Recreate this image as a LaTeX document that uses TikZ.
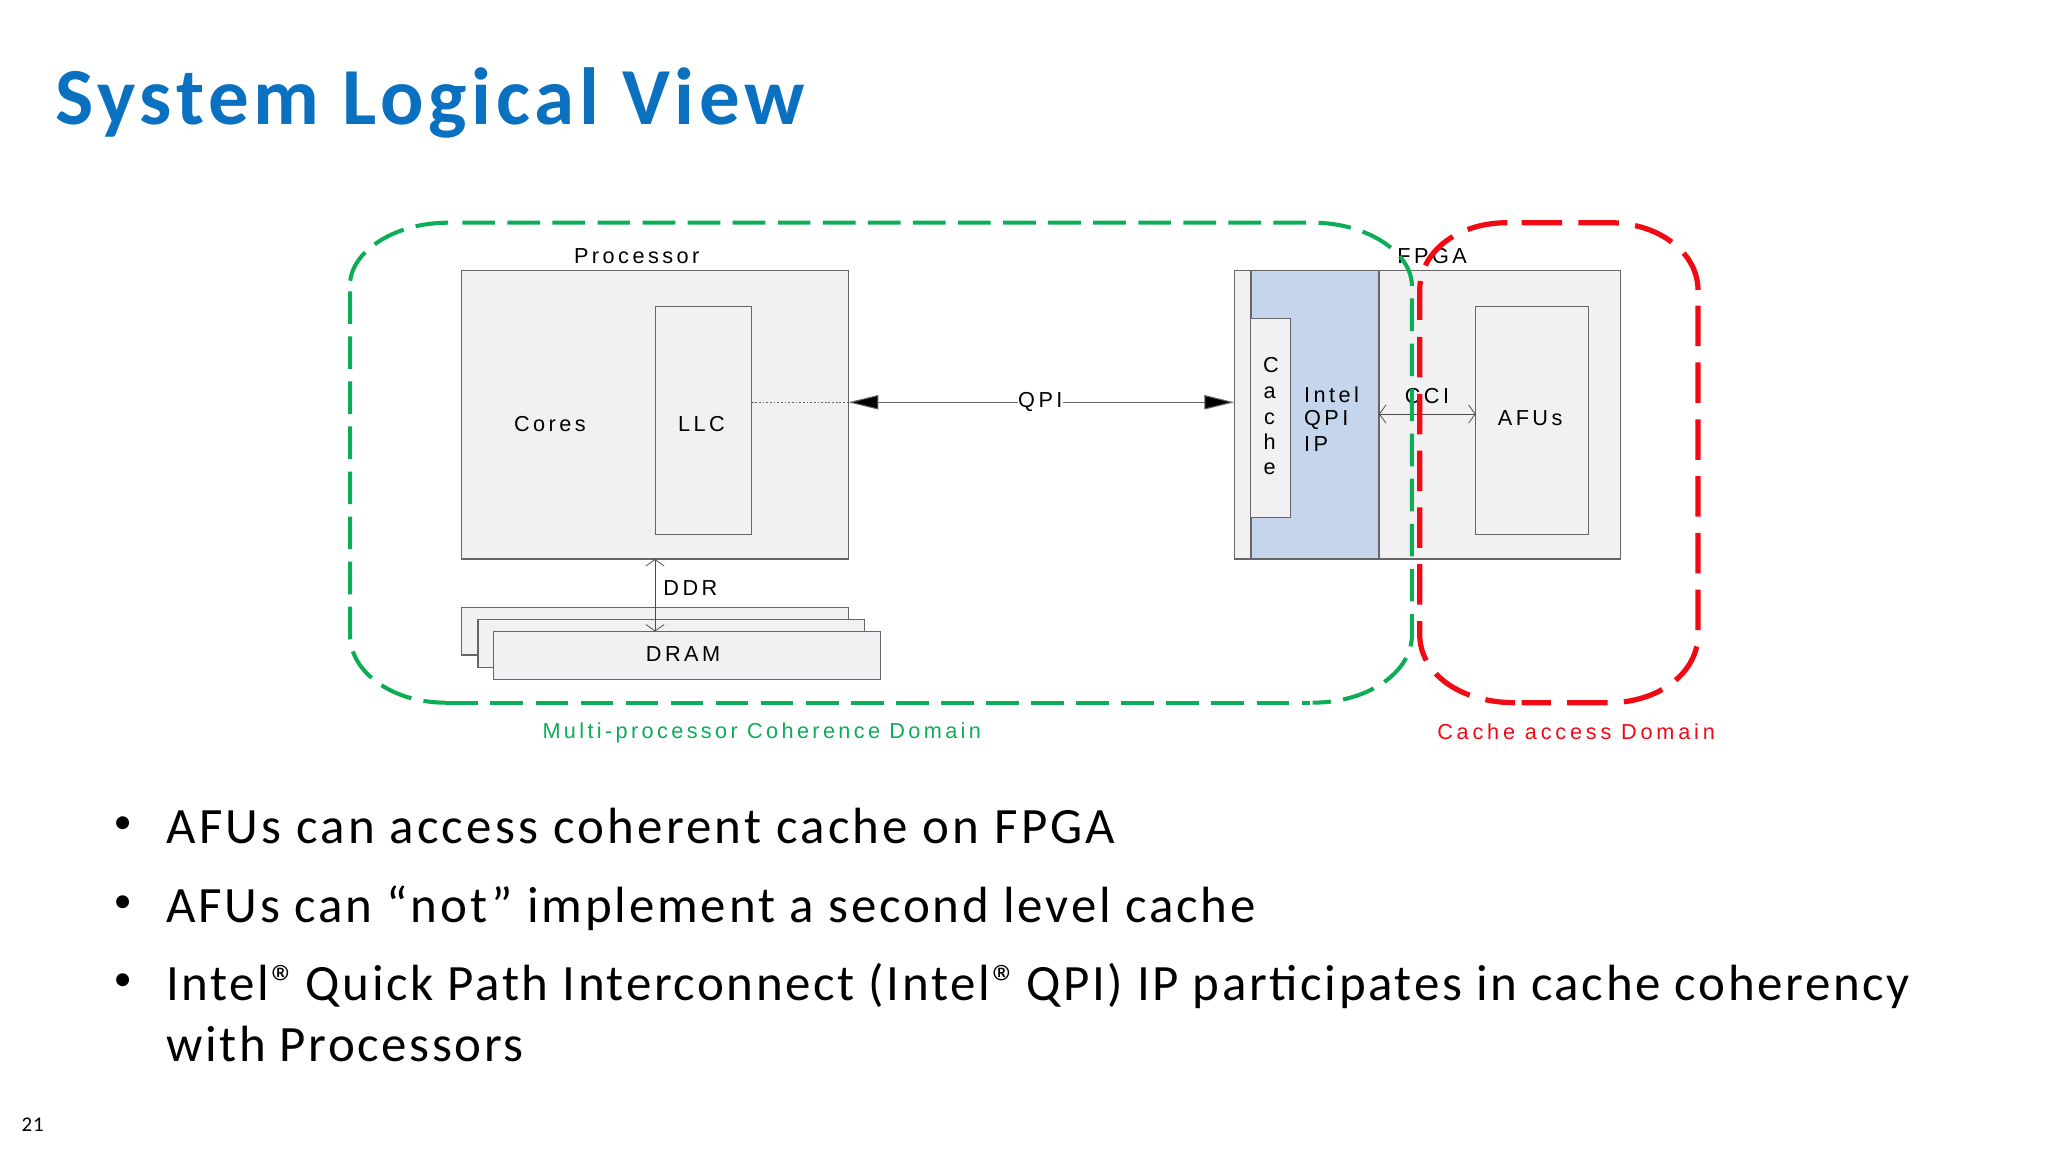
\documentclass[tikz,border=0pt]{standalone}
\usepackage{fontspec}
\usetikzlibrary{arrows.meta,calc}
\setmainfont{Liberation Sans}
\newfontfamily\dgfont{Liberation Sans}[LetterSpace=16]
\newfontfamily\ttlfont{Carlito}[LetterSpace=5.9,BoldFont={Carlito Bold}]
\newfontfamily\blfont{Carlito}[LetterSpace=6]
\newfontfamily\pgfontx{Carlito}[LetterSpace=5]
\definecolor{tblue}{HTML}{0A70C0}
\definecolor{boxgray}{HTML}{F1F0F2}
\definecolor{ipblue}{HTML}{C5D6EC}
\definecolor{edge}{HTML}{666666}
\definecolor{dgreen}{HTML}{0BAE57}
\definecolor{dred}{HTML}{F10A14}
\tikzset{
  box/.style={draw=edge,fill=boxgray,line width=0.5pt,inner sep=0,outer sep=0},
  lbl/.style={font=\dgfont\fontsize{8.3}{9}\selectfont,inner sep=0,text=black},
  bul/.style={font=\blfont\fontsize{19.5}{20}\selectfont,anchor=base west,inner sep=0,text=black},
  dot/.style={font=\blfont\fontsize{14}{20}\selectfont,anchor=center,inner sep=0,text=black},
  open2/.style={{Straight Barb[length=2.5pt,width=7pt]}-{Straight Barb[length=2.5pt,width=7pt]},line width=0.3pt,draw=black!70},
  solid2/.style={line width=0.4pt,draw=edge},
  ahead/.style={-{Triangle[length=11.5pt,width=5.5pt,fill=black]}},
  gdash/.style={draw=dgreen,line width=1.55pt,dash pattern=on 12.5pt off 4.75pt},
  rdash/.style={draw=dred,line width=2pt,dash pattern=on 15.5pt off 6.25pt}
}
\begin{document}
\begin{tikzpicture}[x=0.5pt,y=-0.5pt]
\useasboundingbox (0,0) rectangle (1568,882);
\fill[white] (0,0) rectangle (1568,882);
% title
\node[font=\ttlfont\bfseries\fontsize{31}{34}\selectfont,text=tblue,anchor=base west,inner sep=0] (title) at (42,95) {System Logical View};
% processor
\node[box,minimum width=148pt,minimum height=110.5pt] (proc) at (501.5,317.5) {};
\node[box,line width=0.4pt,minimum width=37pt,minimum height=87.25pt] (llc) at (538.5,322.25) {};
\node[lbl] (proclbl) at (487.5,196) {Processor};
\node[lbl] (cores) at (421,325) {Cores};
\node[lbl] (llctxt) at (537,324.5) {LLC};
% dram
\node[box,minimum width=148pt,minimum height=18.25pt] (d1) at (501.5,483.25) {};
\node[box,minimum width=148pt,minimum height=18.25pt] (d2) at (514,492.75) {};
\node[box,minimum width=148pt,minimum height=18.25pt] (d3) at (526,501.75) {};
\node[lbl] (dramtxt) at (523,500.5) {DRAM};
\node[lbl,anchor=west] (ddr) at (507.5,450) {DDR};
\draw[open2] (proc.south) -- (d3.north -| proc.south);
% fpga
\node[box,minimum width=147.75pt,minimum height=110.5pt] (fpga) at (1092.75,317.5) {};
\node[box,fill=ipblue,minimum width=49pt,minimum height=110.5pt] (ip) at (1006.75,317.5) {};
\node[box,line width=0.4pt,minimum width=15.25pt,minimum height=76pt] (cache) at (973,320) {};
\node[box,line width=0.4pt,minimum width=43.25pt,minimum height=87.25pt] (afu) at (1173,322.25) {};
\node[lbl] (fpgalbl) at (1096.5,196) {FPGA};
\node[lbl,anchor=base] (c1) at (973,285) {C};
\node[lbl,anchor=base] (c2) at (972,305) {a};
\node[lbl,anchor=base] (c3) at (972,325) {c};
\node[lbl,anchor=base] (c4) at (972,344) {h};
\node[lbl,anchor=base] (c5) at (972,363) {e};
\node[lbl,anchor=west] (ip1) at (998,302) {Intel};
\node[lbl,anchor=west] (ip2) at (998,321.5) {QPI};
\node[lbl,anchor=west] (ip3) at (998,340) {IP};
\node[lbl] (cci) at (1092.5,303) {CCI};
\node[lbl] (afutxt) at (1171.5,320.5) {AFUs};
\coordinate (ccia) at (1056,317);
\draw[open2] (ip.east |- ccia) -- (afu.west |- ccia);
% QPI
\node[lbl] (qpi) at (796.5,308) {QPI};
\coordinate (qy) at (796.5,308);
\draw[solid2,ahead] (qpi.west |- qy) -- (proc.east |- qy);
\draw[solid2,ahead] (qpi.east |- qy) -- (fpga.west |- qy);
\draw[line width=0.4pt,draw=edge,dash pattern=on 0.7pt off 0.7pt] (llc.east |- qy) -- (proc.east |- qy);
% domains
\draw[gdash] (354,170.5) -- (1005,170.5) .. controls (1047,170.5) and (1081,193.5) .. (1081,219);
\draw[gdash] (1081,228.5) -- (1081,486) .. controls (1081,515) and (1047,538) .. (1005,538);
\draw[gdash] (341,538) -- (1003,538);
\draw[gdash] (268,223) -- (268,486) .. controls (268,515) and (301,538) .. (341,538);
\draw[gdash] (343,170.5) .. controls (301,170.5) and (268,193.5) .. (268,218);
\draw[rdash] (1165,170.5) -- (1232,170.5) .. controls (1270,170.5) and (1300,193.5) .. (1300,222);
\draw[rdash] (1300,234) -- (1300,486) .. controls (1300,515) and (1270,538) .. (1232,538) -- (1165,538);
\draw[rdash] (1087,258) -- (1087,486) .. controls (1087,515) and (1117,538) .. (1160,538);
\draw[rdash] (1154,170.5) .. controls (1115,170.5) and (1087,193.5) .. (1087,222) -- (1087,245);
\node[lbl,text=dgreen,anchor=west] (mlbl) at (415,561.5) {\addfontfeature{LetterSpace=15.5}Multi-processor Coherence Domain};
\node[lbl,text=dred,anchor=west] (clbl) at (1100,560) {\addfontfeature{LetterSpace=17.5}Cache access Domain};
% bullets
\node[dot] (b1) at (94,632) {•};
\node[dot] (b2) at (94,692) {•};
\node[dot] (b3) at (94,752) {•};
\node[bul] (t1) at (127,646) {\addfontfeature{LetterSpace=6.3}AFUs can access coherent cache on FPGA};
\node[bul] (t2) at (127,706) {\addfontfeature{LetterSpace=5.5}AFUs can “not” implement a second level cache};
\node[bul] (t3) at (127,766) {\addfontfeature{LetterSpace=5.1}Intel®\kern-0.12em{} Quick Path Interconnect (Intel®\kern-0.12em{} QPI) IP participates in cache coherency};
\node[bul] (t4) at (127,813) {\addfontfeature{LetterSpace=5}with Processors};
\node[font=\pgfontx\fontsize{8}{9}\selectfont,inner sep=0] (pg) at (25,861) {21};
\end{tikzpicture}
\end{document}
